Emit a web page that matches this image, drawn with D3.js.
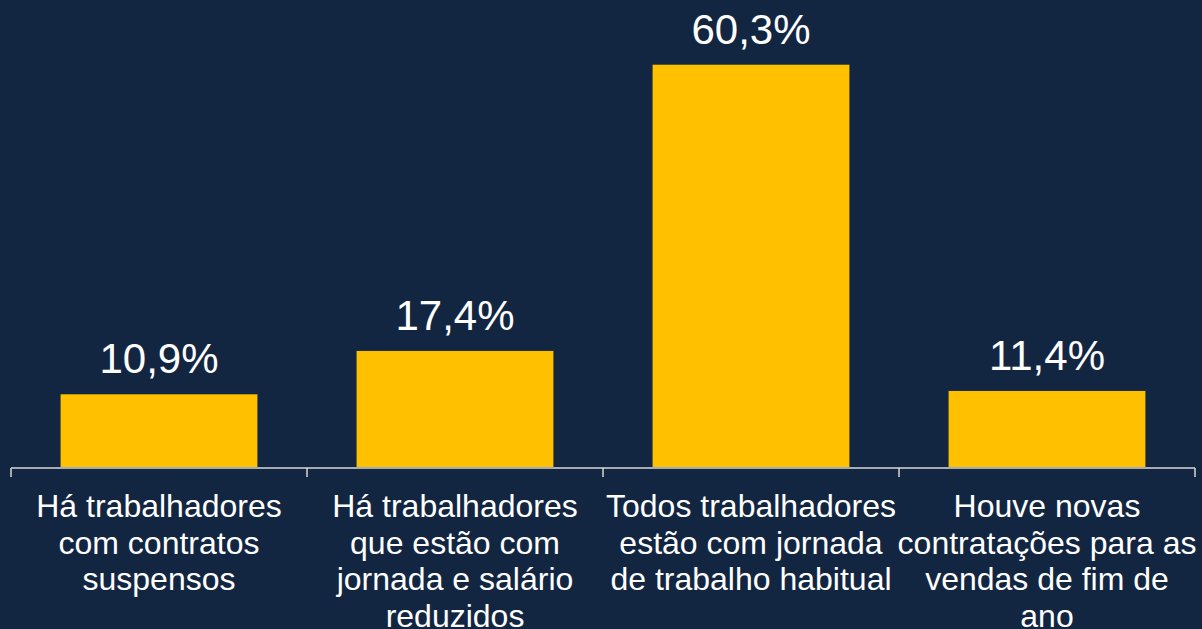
<!DOCTYPE html>
<html>
<head>
<meta charset="utf-8">
<script src="https://cdn.jsdelivr.net/npm/d3@7"></script>
<style>
  html, body { margin: 0; padding: 0; background: #132641; }
  svg { display: block; }
</style>
</head>
<body>
<svg id="chart" width="1202" height="629"></svg>
<script>
// data
var categories = [
    ["Há trabalhadores", "com contratos", "suspensos"],
    ["Há trabalhadores", "que estão com", "jornada e salário", "reduzidos"],
    ["Todos trabalhadores", "estão com jornada", "de trabalho habitual"],
    ["Houve novas", "contratações para as", "vendas de fim de", "ano"]
];
var values = [10.9, 17.4, 60.3, 11.4];
var valueLabels = ["10,9%", "17,4%", "60,3%", "11,4%"];

var width = 1202, height = 629;
var margin = {left: 11, right: 7, top: 0};
var baseY = 467;

var svg = d3.select("#chart");

svg.append("rect")
    .attr("width", width)
    .attr("height", height)
    .attr("fill", "#132641");

var x = d3.scaleBand()
    .domain(d3.range(values.length))
    .range([margin.left, width - margin.right])
    .paddingInner(0.335)
    .paddingOuter(0.1675);

var y = d3.scaleLinear()
    .domain([0, 70])
    .range([baseY, 0]);

// bars
svg.selectAll("rect.bar")
    .data(values)
    .enter().append("rect")
    .attr("class", "bar")
    .attr("x", (d, i) => x(i))
    .attr("y", d => y(d))
    .attr("width", x.bandwidth())
    .attr("height", d => baseY - y(d))
    .attr("fill", "#FFC000");

// value labels
svg.selectAll("text.val")
    .data(values)
    .enter().append("text")
    .attr("class", "val")
    .attr("x", (d, i) => x(i) + x.bandwidth() / 2)
    .attr("y", d => y(d) - 21)
    .attr("text-anchor", "middle")
    .attr("font-family", "Liberation Sans, Arial, sans-serif")
    .attr("font-size", "42px")
    .attr("fill", "#ffffff")
    .text((d, i) => valueLabels[i]);

// axis line and ticks
var step = x.step();
var tickX = d3.range(values.length + 1).map(i => margin.left + i * (width - margin.left - margin.right) / values.length);

svg.append("line")
    .attr("x1", tickX[0])
    .attr("x2", tickX[tickX.length - 1])
    .attr("y1", baseY + 1)
    .attr("y2", baseY + 1)
    .attr("stroke", "#d9d9d9")
    .attr("stroke-width", 1.5);

svg.selectAll("line.tick")
    .data(tickX)
    .enter().append("line")
    .attr("class", "tick")
    .attr("x1", d => d)
    .attr("x2", d => d)
    .attr("y1", baseY + 1)
    .attr("y2", baseY + 10)
    .attr("stroke", "#d9d9d9")
    .attr("stroke-width", 1.5);

// category labels
var catG = svg.selectAll("text.cat")
    .data(categories)
    .enter().append("text")
    .attr("class", "cat")
    .attr("text-anchor", "middle")
    .attr("font-family", "Liberation Sans, Arial, sans-serif")
    .attr("font-size", "32px")
    .attr("fill", "#ffffff");

catG.each(function(lines, i) {
    var t = d3.select(this);
    lines.forEach(function(line, j) {
        t.append("tspan")
            .attr("x", x(i) + x.bandwidth() / 2)
            .attr("y", 517 + j * 36.5)
            .text(line);
    });
});
</script>
</body>
</html>
